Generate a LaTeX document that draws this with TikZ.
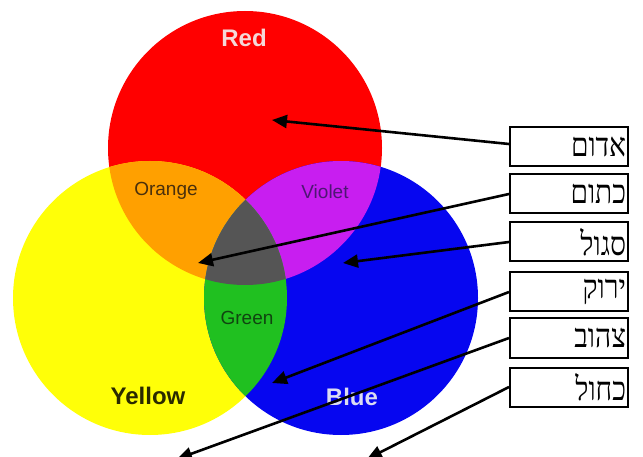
\documentclass[tikz,border=0pt]{standalone}
\usepackage{fontspec}
\setmainfont{Liberation Sans}
\newfontfamily\hebfont[Script=Hebrew, FakeStretch=0.85]{Liberation Serif}
\TeXXeTstate=1
\usepackage{tikz}
\usetikzlibrary{arrows.meta}
\definecolor{redink}{HTML}{FF0000}
\definecolor{yellowink}{HTML}{FFFF08}
\definecolor{blueink}{HTML}{0606F0}
\definecolor{orangemix}{HTML}{FFA000}
\definecolor{violetmix}{HTML}{C81EF0}
\definecolor{greenmix}{HTML}{20C020}
\definecolor{darkmix}{HTML}{555555}
\definecolor{redtext}{HTML}{F5D8D8}
\definecolor{bluetext}{HTML}{DCDCF2}
\definecolor{yellowtext}{HTML}{2A2A00}
\definecolor{orangetext}{HTML}{4A300C}
\definecolor{violettext}{HTML}{4E1674}
\definecolor{greentext}{HTML}{104410}

\begin{document}
\begin{tikzpicture}[x=1pt, y=-1pt,
          mainlabel/.style={font=\fontsize{24}{24}\selectfont\bfseries, inner sep=0pt},
          mixlabel/.style={font=\fontsize{19}{19}\selectfont, inner sep=0pt},
          namebox/.style={draw, line width=2pt, fill=white, minimum height=39pt,
                          text width=114pt, align=right, inner sep=2pt,
                          font=\hebfont\fontsize{33}{33}\selectfont},
          pointer/.style={line width=2.6pt, -{Triangle[length=15pt, width=13pt]}}
        ]
        \useasboundingbox (0,0) rectangle (643,457);
        \fill[redink] (245,148) circle[radius=137pt];
        \fill[yellowink] (150,298) circle[radius=137pt];
        \fill[blueink] (341,298) circle[radius=137pt];
        \begin{scope}
          \clip (245,148) circle[radius=137pt];
          \fill[orangemix] (150,298) circle[radius=137pt];
          \fill[violetmix] (341,298) circle[radius=137pt];
        \end{scope}
        \begin{scope}
          \clip (150,298) circle[radius=137pt];
          \fill[greenmix] (341,298) circle[radius=137pt];
        \end{scope}
        \begin{scope}
          \clip (245,148) circle[radius=137pt];
          \clip (150,298) circle[radius=137pt];
          \fill[darkmix] (341,298) circle[radius=137pt];
        \end{scope}

        \node[mainlabel, text=redtext] (lblRed) at (244,38) {Red};
        \node[mixlabel, text=orangetext] (lblOrange) at (166,191) {Orange};
        \node[mixlabel, text=violettext] (lblViolet) at (325,192) {Violet};
        \node[mixlabel, text=greentext] (lblGreen) at (247,318) {Green};
        \node[mainlabel, text=yellowtext] (lblYellow) at (148,396) {Yellow};
        \node[mainlabel, text=bluetext] (lblBlue) at (352,397) {Blue};

        \node[namebox] (adom) at (569,147) {\beginR אדום\endR};
        \node[namebox] (katom) at (569,194) {\beginR כתום\endR};
        \node[namebox] (sagol) at (569,242) {\beginR סגול\endR};
        \node[namebox] (yarok) at (569,292) {\beginR ירוק\endR};
        \node[namebox] (tzahov) at (569,338) {\beginR צהוב\endR};
        \node[namebox] (kachol) at (569,387) {\beginR כחול\endR};

        \coordinate (ptRed) at (272,120);
        \coordinate (ptOrange) at (198,263);
        \coordinate (ptViolet) at (343,263);
        \coordinate (ptGreen) at (272,383);
        \coordinate (ptYellow) at (177,459);
        \coordinate (ptBlue) at (367,459);

        \draw[pointer] ([yshift=3pt]adom.west) -- (ptRed);
        \draw[pointer] (katom.west) -- (ptOrange);
        \draw[pointer] (sagol.west) -- (ptViolet);
        \draw[pointer] (yarok.west) -- (ptGreen);
        \draw[pointer] (tzahov.west) -- (ptYellow);
        \draw[pointer] (kachol.west) -- (ptBlue);
      \end{tikzpicture}
\end{document}
